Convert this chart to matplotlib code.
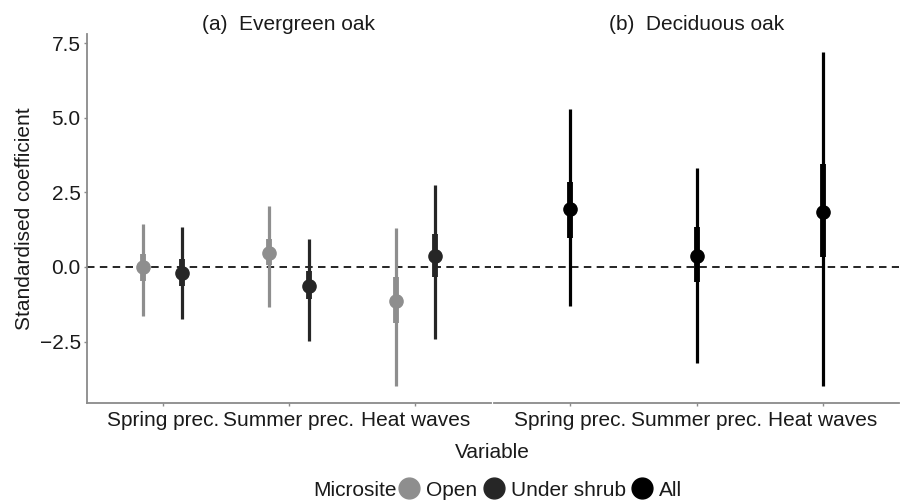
import matplotlib
matplotlib.use("Agg")
import matplotlib.pyplot as plt
from matplotlib.lines import Line2D
import numpy as np

plt.rcParams['font.family'] = ['Liberation Sans', 'DejaVu Sans']

# ---------------- data ----------------
variables = ["Spring prec.", "Summer prec.", "Heat waves"]
panel_titles = ["(a)  Evergreen oak", "(b)  Deciduous oak"]

# Evergreen oak - Open
eg_open_est = [-0.01, 0.47, -1.14]
eg_open_in_lo = [-0.46, 0.07, -1.87]
eg_open_in_hi = [0.43, 0.93, -0.34]
eg_open_out_lo = [-1.63, -1.33, -3.99]
eg_open_out_hi = [1.44, 2.04, 1.30]

# Evergreen oak - Under shrub
eg_shrub_est = [-0.19, -0.64, 0.37]
eg_shrub_in_lo = [-0.63, -1.08, -0.34]
eg_shrub_in_hi = [0.26, -0.15, 1.12]
eg_shrub_out_lo = [-1.75, -2.49, -2.40]
eg_shrub_out_hi = [1.35, 0.95, 2.76]

# Deciduous oak - All
de_all_est = [1.95, 0.36, 1.85]
de_all_in_lo = [0.98, -0.49, 0.34]
de_all_in_hi = [2.86, 1.34, 3.46]
de_all_out_lo = [-1.31, -3.23, -3.98]
de_all_out_hi = [5.30, 3.32, 7.19]

microsites = ["Open", "Under shrub", "All"]
colors = {"Open": "#8e8e8e", "Under shrub": "#262626", "All": "#000000"}

# ---------------- figure ----------------
W, H = 902, 500
fig = plt.figure(figsize=(W / 100, H / 100), dpi=100)

def frac_box(x0, x1, y0, y1):
    return [x0 / W, 1 - y1 / H, (x1 - x0) / W, (y1 - y0) / H]

axL = fig.add_axes(frac_box(87, 491, 34, 403))
axR = fig.add_axes(frac_box(494, 899, 34, 403))

ylim = (-4.56, 7.81)
xpos = np.arange(1, len(variables) + 1)
dodge = 0.155
fs = 15
txtc = "#1a1a1a"
axc = "#8a8a8a"

def draw_series(ax, x, est, ilo, ihi, olo, ohi, color):
    for xi, e, a, b, c, d in zip(x, est, ilo, ihi, olo, ohi):
        ax.plot([xi, xi], [c, d], color=color, lw=2.3, solid_capstyle='butt', zorder=3)
        ax.plot([xi, xi], [a, b], color=color, lw=4.2, solid_capstyle='butt', zorder=4)
        ax.plot([xi], [e], marker='o', ms=9.5, color=color, mec=color, zorder=5)

for ax in (axL, axR):
    ax.axhline(0, color='black', lw=1.2, ls=(0, (4.5, 3.2)), zorder=2)
    ax.set_xlim(0.4, 3.6)
    ax.set_ylim(*ylim)
    ax.set_xticks(xpos)
    ax.set_xticklabels(variables, fontsize=fs, color=txtc)
    for s in ['top', 'right']:
        ax.spines[s].set_visible(False)
    ax.spines['bottom'].set_color(axc)
    ax.spines['bottom'].set_linewidth(1.3)
    ax.tick_params(axis='x', colors=axc, length=2.5, width=1, labelcolor=txtc, pad=3)
    ax.set_facecolor('none')

draw_series(axL, xpos - dodge, eg_open_est, eg_open_in_lo, eg_open_in_hi,
            eg_open_out_lo, eg_open_out_hi, colors["Open"])
draw_series(axL, xpos + dodge, eg_shrub_est, eg_shrub_in_lo, eg_shrub_in_hi,
            eg_shrub_out_lo, eg_shrub_out_hi, colors["Under shrub"])
draw_series(axR, xpos, de_all_est, de_all_in_lo, de_all_in_hi,
            de_all_out_lo, de_all_out_hi, colors["All"])

axL.set_yticks([-2.5, 0.0, 2.5, 5.0, 7.5])
axL.set_yticklabels(["\u22122.5", "0.0", "2.5", "5.0", "7.5"], fontsize=fs, color=txtc)
axL.spines['left'].set_color(axc)
axL.spines['left'].set_linewidth(1.3)
axL.tick_params(axis='y', colors=axc, length=2.5, width=1, labelcolor=txtc, pad=2)
axL.set_ylabel("Standardised coefficient", fontsize=fs, color=txtc, labelpad=4)

axR.spines['left'].set_visible(False)
axR.set_yticks([])

for ax, t in zip((axL, axR), panel_titles):
    ax.set_title(t, fontsize=fs, color=txtc, pad=3)

fig.text(492.5 / W, 1 - 452 / H, "Variable", fontsize=fs, color=txtc,
         ha='center', va='center')

# legend
fig.text(313 / W, 1 - 490 / H, "Microsite", fontsize=fs, color=txtc,
         ha='left', va='center')
handles = [Line2D([], [], ls='none', marker='o', ms=15, color=colors[m]) for m in microsites]
leg = fig.legend(handles, microsites, loc='center left',
                 bbox_to_anchor=(399 / W, 1 - 490 / H), ncol=3, frameon=False,
                 fontsize=fs, handlelength=1.0, handletextpad=0.3,
                 columnspacing=0.3, borderpad=0, borderaxespad=0)
for t in leg.get_texts():
    t.set_color(txtc)

fig.savefig("out.png", dpi=100)
